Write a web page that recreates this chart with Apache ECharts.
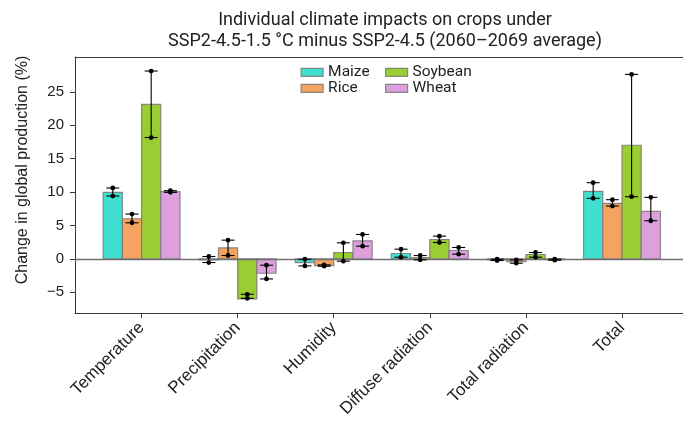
<!DOCTYPE html>
<html>
<head>
<meta charset="utf-8">
<script src="https://cdn.jsdelivr.net/npm/echarts@6/dist/echarts.min.js"></script>
<style>
  html, body { margin: 0; padding: 0; background: #fff; }
  #chart { width: 683px; height: 425px; }
</style>
</head>
<body>
<div id="chart"></div>
<script>
// Impact factors on the x axis
const categories = ['Temperature', 'Precipitation', 'Humidity', 'Diffuse radiation', 'Total radiation', 'Total'];
const crops = ['Maize', 'Rice', 'Soybean', 'Wheat'];

// Mean change in global production (%) per crop
const maize   = [9.95, -0.15, -0.55, 0.8, -0.15, 10.1];
const rice    = [6.0, 1.65, -1.0, 0.2, -0.4, 8.3];
const soybean = [23.1, -6.0, 0.95, 2.9, 0.65, 17.0];
const wheat   = [10.05, -2.15, 2.7, 1.25, -0.1, 7.1];

// Range of the individual model results (low / high)
const maizeLo   = [9.4, -0.55, -1.05, 0.25, -0.25, 9.05];
const maizeHi   = [10.6, 0.35, -0.05, 1.45, -0.05, 11.4];
const riceLo    = [5.4, 0.5, -1.1, -0.15, -0.65, 7.9];
const riceHi    = [6.7, 2.8, -0.9, 0.5, -0.15, 8.85];
const soybeanLo = [18.15, -5.9, -0.35, 2.45, 0.25, 9.3];
const soybeanHi = [28.1, -5.3, 2.4, 3.4, 0.95, 27.6];
const wheatLo   = [9.95, -3.0, 1.9, 0.7, -0.2, 5.7];
const wheatHi   = [10.2, -0.95, 3.65, 1.7, -0.05, 9.2];

// Y tick labels
const yTicks = [-5, 0, 5, 10, 15, 20, 25];

const means  = [maize, rice, soybean, wheat];
const lows   = [maizeLo, riceLo, soybeanLo, wheatLo];
const highs  = [maizeHi, riceHi, soybeanHi, wheatHi];
const colors = ['#40E0D0', '#F4A460', '#9ACD32', '#DDA0DD'];
const edge = 'rgba(120,120,120,0.85)';

const BAR_W = 0.2;                 // bar width in category units
const offsets = [-0.3, -0.1, 0.1, 0.3];

const chart = echarts.init(document.getElementById('chart'), null, { renderer: 'canvas' });

function barSeries(k) {
  return {
    name: crops[k],
    type: 'custom',
    itemStyle: { color: colors[k], borderColor: edge, borderWidth: 1.2 },
    data: means[k].map((v, i) => [i, v]),
    renderItem: function (params, api) {
      const x = api.value(0) + offsets[k];
      const v = api.value(1);
      const p0 = api.coord([x - BAR_W / 2, 0]);
      const p1 = api.coord([x + BAR_W / 2, v]);
      return {
        type: 'rect',
        shape: {
          x: p0[0], y: Math.min(p0[1], p1[1]),
          width: p1[0] - p0[0], height: Math.abs(p1[1] - p0[1])
        },
        style: { fill: colors[k], stroke: edge, lineWidth: 1.2 }
      };
    },
    z: 2
  };
}

function rangeSeries(k) {
  return {
    name: crops[k] + ' range',
    type: 'custom',
    silent: true,
    data: lows[k].map((lo, i) => [i, lo, highs[k][i]]),
    renderItem: function (params, api) {
      const x = api.value(0) + offsets[k];
      const a = api.coord([x, api.value(1)]);
      const b = api.coord([x, api.value(2)]);
      const cap = 6.5;
      const line = { stroke: '#000', lineWidth: 1.1 };
      return {
        type: 'group',
        children: [
          { type: 'line', shape: { x1: a[0], y1: a[1], x2: b[0], y2: b[1] }, style: line },
          { type: 'line', shape: { x1: a[0] - cap, y1: a[1], x2: a[0] + cap, y2: a[1] }, style: line },
          { type: 'line', shape: { x1: b[0] - cap, y1: b[1], x2: b[0] + cap, y2: b[1] }, style: line },
          { type: 'circle', shape: { cx: a[0], cy: a[1], r: 2.4 }, style: { fill: '#000' } },
          { type: 'circle', shape: { cx: b[0], cy: b[1], r: 2.4 }, style: { fill: '#000' } }
        ]
      };
    },
    z: 4
  };
}

const series = [];
for (let k = 0; k < 4; k++) series.push(barSeries(k));
for (let k = 0; k < 4; k++) series.push(rangeSeries(k));

// Zero reference line
series[0].markLine = {
  silent: true,
  symbol: ['none', 'none'],
  label: { show: false },
  lineStyle: { color: '#707070', width: 1.3, type: 'solid' },
  data: [{ yAxis: 0 }],
  z: 3
};

const axisColor = '#3a3a3a';
const legendText = { fontFamily: 'Roboto', fontSize: 15.5, color: '#222', lineHeight: 15.5 };

chart.setOption({
  animation: false,
  backgroundColor: '#fff',
  title: {
    text: 'Individual climate impacts on crops under\nSSP2-4.5-1.5 °C minus SSP2-4.5 (2060–2069 average)',
    left: 385, top: 10, padding: 0, textAlign: 'center',
    textStyle: { fontFamily: 'Roboto', fontSize: 18, fontWeight: 'normal', color: '#222', lineHeight: 21 }
  },
  legend: [
    {
      data: ['Maize', 'Rice'], orient: 'vertical', left: 300.5, top: 64.3, padding: 0,
      itemWidth: 22, itemHeight: 8, itemGap: 0, icon: 'rect',
      textStyle: legendText,
      itemStyle: { borderColor: edge, borderWidth: 1.2 }
    },
    {
      data: ['Soybean', 'Wheat'], orient: 'vertical', left: 385, top: 64.3, padding: 0,
      itemWidth: 22, itemHeight: 8, itemGap: 0, icon: 'rect',
      textStyle: legendText,
      itemStyle: { borderColor: edge, borderWidth: 1.2 }
    }
  ],
  graphic: [
    {
      type: 'text', x: 23, y: 170, rotation: Math.PI / 2,
      style: {
        text: 'Change in global production (%)',
        fontFamily: 'Liberation Sans', fontSize: 16, fill: '#222',
        align: 'center', verticalAlign: 'middle'
      }
    }
  ],
  grid: { left: 75, right: 0, top: 57, bottom: 112 },
  xAxis: [
    {
      type: 'value', min: -0.693, max: 5.635,
      axisLine: { show: true, onZero: false, lineStyle: { color: axisColor, width: 1 } },
      axisTick: { show: true, customValues: [0, 1, 2, 3, 4, 5], length: 5, lineStyle: { color: axisColor } },
      axisLabel: {
        customValues: [0, 1, 2, 3, 4, 5],
        formatter: v => categories[Math.round(v)],
        rotate: 45, margin: 12,
        fontFamily: 'Liberation Sans', fontSize: 17, color: '#222'
      },
      splitLine: { show: false }
    },
    {
      type: 'value', position: 'top', min: -0.693, max: 5.635,
      axisLine: { show: true, onZero: false, lineStyle: { color: axisColor, width: 1 } },
      axisTick: { show: false }, axisLabel: { show: false }, splitLine: { show: false }
    }
  ],
  yAxis: {
    type: 'value', min: -8.1, max: 30.2,
    axisLine: { show: true, onZero: false, lineStyle: { color: axisColor, width: 1 } },
    axisTick: { show: true, customValues: yTicks, length: 5, lineStyle: { color: axisColor } },
    axisLabel: {
      customValues: yTicks,
      formatter: v => (v < 0 ? '\u2212' + Math.abs(v) : String(v)),
      fontFamily: 'Liberation Sans', fontSize: 15, color: '#222', margin: 11
    },
    splitLine: { show: false }
  },
  series: series
});
</script>
</body>
</html>
